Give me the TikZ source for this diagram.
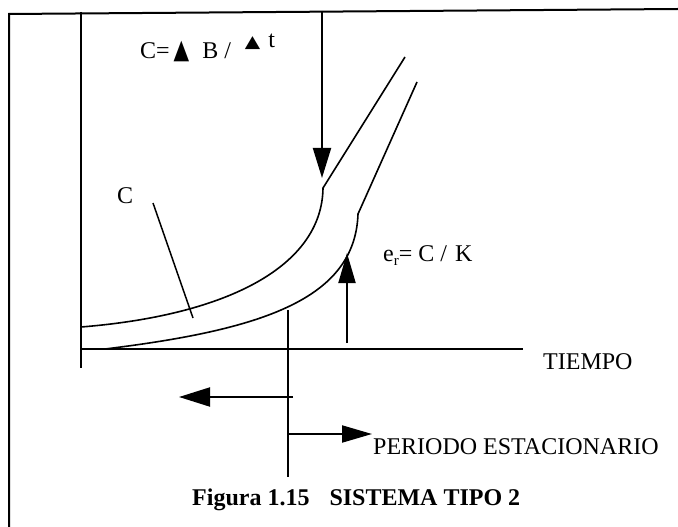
\documentclass[tikz,border=0pt]{standalone}
\usepackage{fontspec}
\setmainfont{Liberation Serif}
\newfontfamily\dejavu{DejaVu Sans}
\usetikzlibrary{arrows.meta}
\newcommand\bigtri{{\dejavu\fontsize{27bp}{27bp}\selectfont\scalebox{0.75}[1]{▲}}}
\newcommand\smalltri{{\dejavu\fontsize{20bp}{20bp}\selectfont\scalebox{1}[0.85]{▲}}}
\tikzset{
  txt/.style={anchor=base west, inner sep=0pt, font=\fontsize{24bp}{24bp}\selectfont},
  frameline/.style={line width=2bp},
  axisline/.style={line width=2bp},
  curveline/.style={line width=1.6bp},
  thinline/.style={line width=1.5bp},
  bigarrow/.style={line width=2bp, -{Triangle[length=30bp,width=18bp]}},
}
\begin{document}
\begin{tikzpicture}[x=1bp,y=-1bp]
\useasboundingbox (0,0) rectangle (678,527);
\fill[white] (0,0) rectangle (678,527);
% frame
\draw[frameline] (9,527) -- (9,14) -- (678,9);
% axes
\coordinate (ytop) at (81,12);
\coordinate (origin) at (81,349);
\coordinate (ybot) at (81,368);
\coordinate (xend) at (523,349);
\draw[axisline] (ytop) -- (ybot);
\draw[axisline] (origin) -- (xend);
% upper curve
\coordinate (u0) at (81,327);
\coordinate (u1) at (323,188);
\coordinate (u2) at (405,57);
\draw[curveline] (u0) .. controls (230,315) and (322,265) .. (u1) -- (u2);
% lower curve
\coordinate (l0) at (105,349);
\coordinate (l1) at (358,214);
\coordinate (l2) at (417,82);
\draw[curveline] (l0) .. controls (260,330) and (355,300) .. (l1) -- (l2);
% down arrow
\coordinate (dtop) at (322,11);
\coordinate (dtip) at (322,178);
\draw[bigarrow] (dtop) -- (dtip);
% up arrow
\coordinate (ubot) at (347,343);
\coordinate (utip) at (347,253);
\draw[bigarrow,-{Triangle[length=30bp,width=17bp]}] (ubot) -- (utip);
% C pointer
\node[txt] (clab) at (117,204) {C};
\coordinate (cp0) at (153,203);
\coordinate (cp1) at (193,318);
\draw[thinline] (cp0) -- (cp1);
% vertical divider
\coordinate (vtop) at (288,310);
\coordinate (vbot) at (288,477);
\draw[axisline] (vtop) -- (vbot);
% left / right arrows
\coordinate (la0) at (293,397);
\coordinate (la1) at (179,397);
\draw[bigarrow,-{Triangle[length=31bp,width=19bp]}] (la0) -- (la1);
\coordinate (ra0) at (288,434);
\coordinate (ra1) at (372,434);
\draw[bigarrow,-{Triangle[length=30bp,width=17bp]}] (ra0) -- (ra1);
% texts
\node[txt] (cform) at (140,59) {C=\hspace{4bp}\bigtri\hspace{13bp}B /\hspace{14bp}\raisebox{11bp}{\smalltri\hspace{8bp}t}};
\node[txt] (er) at (383,262) {e\raisebox{-4bp}{\fontsize{15bp}{15bp}\selectfont r}= C /\hspace{8bp}K};
\node[txt] (tiempo) at (543,369) {TIEMPO};
\node[txt] (periodo) at (373,454) {PERIODO ESTACIONARIO};
\node[txt,font=\fontsize{24bp}{24bp}\selectfont\bfseries] (cap) at (192,505) {Figura 1.15\hspace{14bp} SISTEMA TIPO 2};
\end{tikzpicture}
\end{document}
